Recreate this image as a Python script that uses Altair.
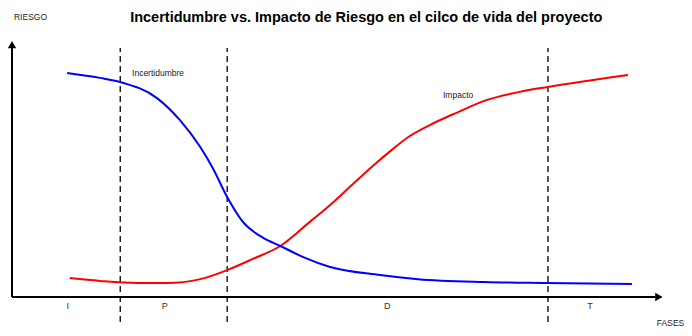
import altair as alt
import pandas as pd

# Curve values (x: project time 0-100, y: risk 0-100)
inc_x = [8.4, 13.4, 16.5, 22.1, 25.6, 28.7, 30.6, 32.8, 35.1, 38.3, 40.9, 44.4, 48.5, 56.1, 61.9, 72.1, 81.4, 94.5]
inc_y = [86.5, 84.6, 83.0, 76.8, 68.3, 57.9, 49.8, 38.6, 29.3, 22.8, 19.7, 15.4, 11.6, 8.5, 6.9, 5.8, 5.4, 5.0]

imp_x = [8.8, 13.4, 19.1, 23.6, 28.7, 32.8, 36.7, 40.9, 45.4, 48.5, 52.3, 55.0, 57.9, 60.2, 63.7, 68.0, 72.4, 77.4, 81.7, 93.9]
imp_y = [7.3, 6.2, 5.4, 5.4, 6.9, 10.4, 14.7, 19.7, 29.0, 35.5, 44.4, 50.6, 56.8, 61.4, 66.4, 71.4, 76.1, 79.2, 81.1, 85.7]

phase_bounds = [16.5, 32.8, 81.7]
phase_labels = ["I", "P", "D", "T"]
phase_label_x = [8.5, 23.3, 57.2, 88.1]

title_text = "Incertidumbre vs. Impacto de Riesgo en el cilco de vida del proyecto"

xs = alt.Scale(domain=[0, 100], range=[4, 660])
ys = alt.Scale(domain=[0, 100], range=[289, 30])

def X(f="x"):
    return alt.X(f"{f}:Q", scale=xs, axis=None)

def Y(f="y"):
    return alt.Y(f"{f}:Q", scale=ys, axis=None)

inc = pd.DataFrame({"x": inc_x, "y": inc_y, "o": range(len(inc_x))})
imp = pd.DataFrame({"x": imp_x, "y": imp_y, "o": range(len(imp_x))})

blue = alt.Chart(inc).mark_line(color="#0000ff", strokeWidth=2, interpolate="monotone").encode(
    x=X(), y=Y(), order="o:Q")
red = alt.Chart(imp).mark_line(color="#ff0000", strokeWidth=2, interpolate="monotone").encode(
    x=X(), y=Y(), order="o:Q")

dash_df = pd.DataFrame({"x": phase_bounds, "y1": [-9.7] * 3, "y2": [96.1] * 3})
dashes = alt.Chart(dash_df).mark_rule(color="black", strokeWidth=1.3, strokeDash=[6, 4]).encode(
    x=X(), y=Y("y1"), y2="y2:Q")

axes_df = pd.DataFrame({"x": [0, 0], "y": [0, 0], "x2": [99, 0], "y2": [0, 98]})
axes = alt.Chart(axes_df).mark_rule(color="black", strokeWidth=2).encode(
    x=X(), y=Y(), x2="x2:Q", y2="y2:Q")

arr_r = alt.Chart(pd.DataFrame({"x": [98.6], "y": [0]})).mark_point(
    shape="triangle-right", filled=True, color="black", size=70, opacity=1).encode(x=X(), y=Y())
arr_u = alt.Chart(pd.DataFrame({"x": [0], "y": [97.4]})).mark_point(
    shape="triangle-up", filled=True, color="black", size=70, opacity=1).encode(x=X(), y=Y())

ph_df = pd.DataFrame({"x": phase_label_x, "y": [-3.5] * 4, "t": phase_labels})
ph = alt.Chart(ph_df).mark_text(font="Liberation Sans", fontSize=9, color="#333333").encode(
    x=X(), y=Y(), text="t:N")

lab_df = pd.DataFrame({"x": [18.3, 65.7, 0.3], "y": [86.5, 78.0, 108.1],
                       "t": ["Incertidumbre", "Impacto", "RIESGO"]})
labs = alt.Chart(lab_df).mark_text(font="Liberation Sans", fontSize=8.5, align="left",
                                   color="#222222").encode(x=X(), y=Y(), text="t:N")

fases_df = pd.DataFrame({"x": [98.3], "y": [-10.0], "t": ["FASES"]})
fases = alt.Chart(fases_df).mark_text(font="Liberation Sans", fontSize=8.5, align="left",
                                      color="#222222").encode(x=X(), y=Y(), text="t:N")

title_df = pd.DataFrame({"x": [54.0], "y": [107.7], "t": [title_text]})
title = alt.Chart(title_df).mark_text(font="Liberation Sans", fontSize=14.5, fontWeight="bold",
                                      color="black").encode(x=X(), y=Y(), text="t:N")

chart = alt.layer(dashes, axes, arr_r, arr_u, red, blue, ph, labs, fases, title).properties(
    width=676, height=320, autosize=alt.AutoSizeParams(type="none"), padding=0
).configure_view(stroke=None)

chart.save("out.html", embed_options={"renderer": "svg", "actions": False})
